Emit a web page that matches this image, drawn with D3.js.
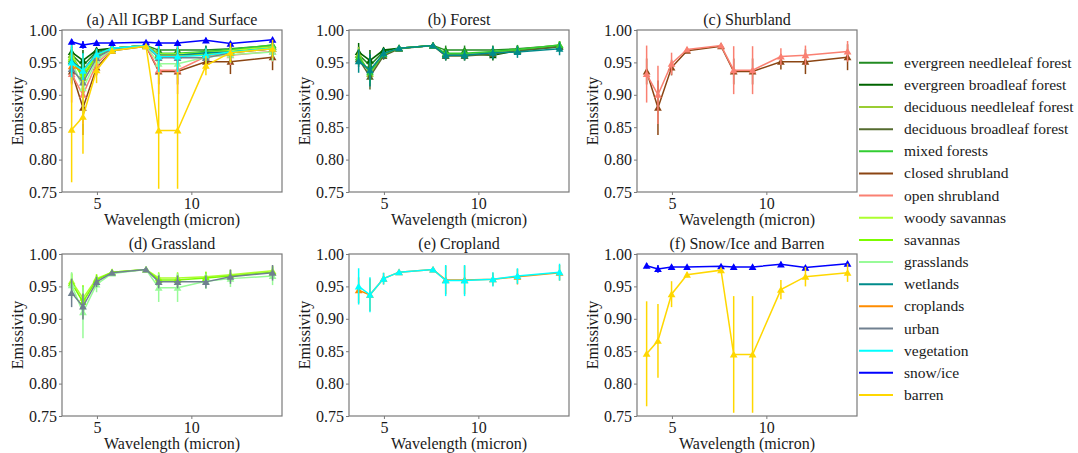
<!DOCTYPE html>
<html><head><meta charset="utf-8">
<script src="https://cdn.jsdelivr.net/npm/d3@7"></script>
<style>
html,body{margin:0;padding:0;background:#fff;}
svg{display:block;font-family:"Liberation Serif","Times New Roman",serif;}
</style></head>
<body><svg id="chart" width="1078" height="453"></svg>
<script>
// ---------------- data ----------------
const wavelength = [3.66, 4.26, 4.98, 5.8, 7.6, 8.27, 9.27, 10.77, 12.07, 14.3];
const yTicks = [0.75, 0.80, 0.85, 0.90, 0.95, 1.00];
const xTicks = [5, 10];

const seriesNames = ["evergreen needleleaf forest","evergreen broadleaf forest","deciduous needleleaf forest",
  "deciduous broadleaf forest","mixed forests","closed shrubland","open shrubland","woody savannas",
  "savannas","grasslands","wetlands","croplands","urban","vegetation","snow/ice","barren"];
const seriesColors = ["#228b22","#006400","#9acd32","#556b2f","#32cd32","#8b4513","#fa8072","#adff2f",
  "#7cfc00","#98fb98","#008b8b","#ff8c00","#708090","#00ffff","#0000ff","#ffd700"];

const enfMean = [0.962, 0.945, 0.967, 0.972, 0.976, 0.969, 0.969, 0.969, 0.971, 0.976];
const enfErr  = [0.012, 0.016, 0.005, 0.002, 0.002, 0.007, 0.007, 0.007, 0.006, 0.006];
const ebfMean = [0.966, 0.953, 0.969, 0.972, 0.976, 0.963, 0.963, 0.961, 0.968, 0.974];
const ebfErr  = [0.014, 0.016, 0.004, 0.002, 0.002, 0.008, 0.008, 0.008, 0.006, 0.007];
const dnfMean = [0.962, 0.932, 0.962, 0.972, 0.976, 0.961, 0.961, 0.966, 0.969, 0.977];
const dnfErr  = [0.012, 0.018, 0.006, 0.002, 0.002, 0.008, 0.008, 0.007, 0.006, 0.006];
const dbfMean = [0.955, 0.928, 0.960, 0.971, 0.976, 0.960, 0.960, 0.963, 0.968, 0.974];
const dbfErr  = [0.012, 0.020, 0.006, 0.002, 0.002, 0.007, 0.007, 0.007, 0.006, 0.006];
const mfMean  = [0.958, 0.935, 0.963, 0.972, 0.976, 0.964, 0.964, 0.967, 0.970, 0.977];
const mfErr   = [0.012, 0.017, 0.005, 0.002, 0.002, 0.007, 0.007, 0.007, 0.006, 0.006];
const csMean  = [0.936, 0.880, 0.942, 0.968, 0.975, 0.936, 0.936, 0.951, 0.951, 0.958];
const csErr   = [0.020, 0.042, 0.012, 0.003, 0.002, 0.020, 0.020, 0.012, 0.019, 0.020];
const osMean  = [0.932, 0.900, 0.948, 0.970, 0.976, 0.938, 0.938, 0.959, 0.961, 0.967];
const osErr   = [0.044, 0.045, 0.017, 0.003, 0.002, 0.037, 0.037, 0.013, 0.015, 0.016];
const wsMean  = [0.958, 0.932, 0.962, 0.972, 0.976, 0.963, 0.963, 0.965, 0.968, 0.974];
const wsErr   = [0.012, 0.020, 0.007, 0.002, 0.002, 0.009, 0.009, 0.008, 0.008, 0.008];
const savMean = [0.955, 0.926, 0.960, 0.972, 0.976, 0.960, 0.960, 0.963, 0.966, 0.972];
const savErr  = [0.015, 0.025, 0.008, 0.002, 0.002, 0.010, 0.010, 0.009, 0.009, 0.009];
const grMean  = [0.952, 0.910, 0.953, 0.970, 0.976, 0.948, 0.948, 0.958, 0.962, 0.966];
const grErr   = [0.020, 0.040, 0.012, 0.003, 0.002, 0.022, 0.022, 0.012, 0.013, 0.014];
const wetMean = [0.952, 0.938, 0.964, 0.972, 0.976, 0.961, 0.961, 0.965, 0.966, 0.971];
const wetErr  = [0.018, 0.025, 0.008, 0.002, 0.002, 0.008, 0.008, 0.010, 0.009, 0.010];
const crMean  = [0.944, 0.937, 0.962, 0.972, 0.976, 0.960, 0.960, 0.961, 0.965, 0.971];
const crErr   = [0.020, 0.025, 0.009, 0.002, 0.002, 0.022, 0.022, 0.010, 0.012, 0.012];
const urbMean = [0.940, 0.919, 0.957, 0.971, 0.976, 0.957, 0.957, 0.957, 0.965, 0.971];
const urbErr  = [0.022, 0.020, 0.008, 0.002, 0.002, 0.010, 0.010, 0.010, 0.011, 0.012];
const vegMean = [0.950, 0.937, 0.962, 0.972, 0.976, 0.959, 0.959, 0.961, 0.966, 0.972];
const vegErr  = [0.028, 0.027, 0.009, 0.002, 0.002, 0.024, 0.024, 0.011, 0.012, 0.013];
const snowMean= [0.982, 0.977, 0.980, 0.980, 0.981, 0.980, 0.980, 0.984, 0.979, 0.985];
const snowErr = [0.004, 0.006, 0.003, 0.002, 0.002, 0.003, 0.003, 0.004, 0.003, 0.003];
const barMean = [0.846, 0.866, 0.938, 0.968, 0.975, 0.845, 0.845, 0.945, 0.965, 0.971];
const barErr  = [0.081, 0.057, 0.020, 0.004, 0.003, 0.090, 0.090, 0.015, 0.015, 0.014];

const seriesMeans = [enfMean, ebfMean, dnfMean, dbfMean, mfMean, csMean, osMean, wsMean,
  savMean, grMean, wetMean, crMean, urbMean, vegMean, snowMean, barMean];
const seriesErrs = [enfErr, ebfErr, dnfErr, dbfErr, mfErr, csErr, osErr, wsErr,
  savErr, grErr, wetErr, crErr, urbErr, vegErr, snowErr, barErr];

const panelTitles = ["(a) All IGBP Land Surface","(b) Forest","(c) Shurbland","(d) Grassland","(e) Cropland","(f) Snow/Ice and Barren"];
const panelMembers = [
  [0,1,2,3,4,5,6,7,8,9,10,11,12,13,14,15],
  [0,1,2,3,4,10],
  [5,6],
  [7,8,9,12],
  [11,13],
  [14,15]
];

// ---------------- layout ----------------
const svg = d3.select("#chart");
const colLeft = [62, 349, 637];
const rowTop = [30, 254];
const pw = 220, ph = 162;
const textColor = "#1a1a1a";
const spine = "#7a7a7a";

panelTitles.forEach((title, pi) => {
  const left = colLeft[pi % 3], top = rowTop[Math.floor(pi / 3)];
  const g = svg.append("g").attr("transform", `translate(${left},${top})`);
  const x = d3.scaleLinear().domain([3.15, 14.8]).range([0, pw]);
  const y = d3.scaleLinear().domain([0.75, 1.0]).range([ph, 0]);

  const clipId = "clip" + pi;
  g.append("clipPath").attr("id", clipId).append("rect").attr("width", pw).attr("height", ph);

  // axes
  const yAxis = d3.axisLeft(y).tickValues(yTicks).tickFormat(d3.format(".2f")).tickSize(3).tickPadding(2);
  const xAxis = d3.axisBottom(x).tickValues(xTicks).tickFormat(d3.format("d")).tickSize(3).tickPadding(3);
  const ya = g.append("g").call(yAxis);
  const xa = g.append("g").attr("transform", `translate(0,${ph})`).call(xAxis);
  [ya, xa].forEach(a => {
    a.select(".domain").remove();
    a.selectAll("line").attr("stroke", spine).attr("stroke-width", 1);
    a.selectAll("text").attr("fill", textColor).style("font-size", "16px")
      .style("font-family", "'Liberation Serif','Times New Roman',serif");
  });
  xa.selectAll("text").attr("dy", null).attr("y", 17);

  const plot = g.append("g").attr("clip-path", `url(#${clipId})`);
  const line = d3.line().x((d, i) => x(wavelength[i])).y(d => y(d));

  panelMembers[pi].forEach(si => {
    const col = seriesColors[si];
    const means = seriesMeans[si], errs = seriesErrs[si];
    const sg = plot.append("g");
    // error bars
    sg.selectAll("line.err").data(means).join("line")
      .attr("x1", (d, i) => x(wavelength[i])).attr("x2", (d, i) => x(wavelength[i]))
      .attr("y1", (d, i) => y(d - errs[i])).attr("y2", (d, i) => y(d + errs[i]))
      .attr("stroke", col).attr("stroke-width", 1.5);
    sg.append("path").datum(means).attr("d", line)
      .attr("fill", "none").attr("stroke", col).attr("stroke-width", 1.5);
    sg.selectAll("path.mk").data(means).join("path").attr("class", "mk")
      .attr("d", d3.symbol(d3.symbolTriangle, 26))
      .attr("transform", (d, i) => `translate(${x(wavelength[i])},${y(d) + 0.8})`)
      .attr("fill", col);
  });

  // frame
  g.append("rect").attr("width", pw).attr("height", ph)
    .attr("fill", "none").attr("stroke", spine).attr("stroke-width", 1.2);

  g.append("text").attr("x", pw / 2).attr("y", -5.5).attr("text-anchor", "middle")
    .attr("fill", textColor).style("font-size", "16px").text(title);
  g.append("text").attr("x", pw / 2).attr("y", ph + 32.5).attr("text-anchor", "middle")
    .attr("fill", textColor).style("font-size", "16px").text("Wavelength (micron)");
  g.append("text").attr("transform", `translate(-39,${ph / 2}) rotate(-90)`).attr("text-anchor", "middle")
    .attr("fill", textColor).style("font-size", "16px").text("Emissivity");
});

// ---------------- legend ----------------
const leg = svg.append("g");
seriesNames.forEach((name, i) => {
  const yy = 62.7 + i * 22.15;
  leg.append("line").attr("x1", 859).attr("x2", 893).attr("y1", yy).attr("y2", yy)
    .attr("stroke", seriesColors[i]).attr("stroke-width", 2);
  leg.append("text").attr("x", 904).attr("y", yy + 5).attr("fill", textColor)
    .style("font-size", "15.5px").text(name);
});
</script></body></html>
